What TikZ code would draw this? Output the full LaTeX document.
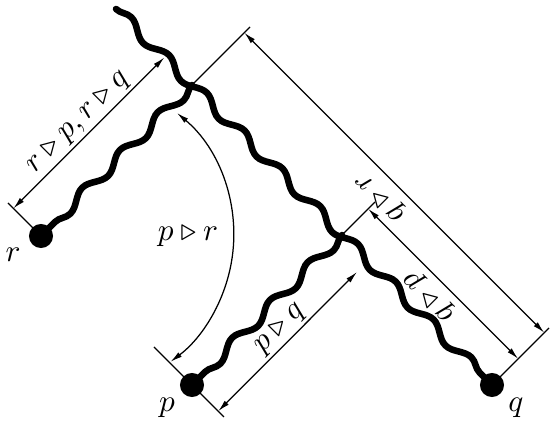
\documentclass[tikz,border=0pt]{standalone}
\usetikzlibrary{decorations.pathmorphing, arrows.meta}

\begin{document}
\begin{tikzpicture}[x=0.32pt, y=-0.32pt, >={Latex[length=3.8pt, width=1.8pt]},
  wave/.style={line width=2.1pt, line cap=round, decorate,
    decoration={snake, segment length=17.1pt, amplitude=1.6pt}},
  dot/.style={circle, fill, inner sep=0pt, minimum size=7.7pt},
  dim/.style={<->, thin},
  ext/.style={thin}]
  \useasboundingbox (0,0) rectangle (550,426);

  % ---- branch points and the three ends --------------------------------------
  \coordinate (top) at (116,9);
  \coordinate (jr) at (192,85);
  \coordinate (jp) at (342,235);
  \node[dot] (r) at (41,236) {};
  \node[dot] (p) at (192,385) {};
  \node[dot] (q) at (492,385) {};

  % ---- the wavy strands ------------------------------------------------------
  \draw[wave] (top) -- (q.center);
  \draw[wave] (jr) -- (r.center);
  \draw[wave] (jp) -- (p.center);

  % ---- extension lines -------------------------------------------------------
  \coordinate (rx) at (8,203);
  \coordinate (jrx) at (250,27);
  \coordinate (jpx) at (375,202);
  \coordinate (qx) at (549,328);
  \coordinate (pxd) at (224,417);
  \coordinate (pxu) at (154,347);
  \draw[ext] (r.center) -- (rx);
  \draw[ext] (jr) -- (jrx);
  \draw[ext] (jp) -- (jpx);
  \draw[ext] (q.center) -- (qx);
  \draw[ext] (pxu) -- (pxd);

  % ---- dimension lines -------------------------------------------------------
  \coordinate (rpa) at (13.4,208.4);
  \coordinate (rpb) at (164.4,57.4);
  \coordinate (qra) at (244.3,32.7);
  \coordinate (qrb) at (544.3,332.7);
  \coordinate (qpa) at (368.2,208.8);
  \coordinate (qpb) at (518.2,358.8);
  \coordinate (pqa) at (218.2,411.2);
  \coordinate (pqb) at (357,272);
  \draw[dim] (rpa) -- node[midway, above, sloped, inner sep=1pt] (lrp)
    {$r \triangleright p, r \triangleright q$} (rpb);
  \draw[dim] (qra) -- (qrb);
  \draw[dim] (qpa) -- (qpb);
  \draw[dim] (pqa) -- node[pos=0.52, above, sloped, inner sep=1pt] (lpq)
    {$p \triangleright q$} (pqb);

  % angle between the r strand and the p end
  \coordinate (arcs) at (177,113);
  \draw[dim] (arcs) arc[start angle=-50, end angle=53, radius=159];

  % ---- labels ----------------------------------------------------------------
  \node[rotate=135] (lqr) at (381,196) {$q \triangleright r$};
  \node[rotate=135] (lqp) at (430,296) {$q \triangleright p$};
  \node (lpr) at (188,236) {$p \triangleright r$};
  \node (lr) at (13,255) {$r$};
  \node (lp) at (167,408) {$p$};
  \node (lq) at (516,408) {$q$};
\end{tikzpicture}
\end{document}
